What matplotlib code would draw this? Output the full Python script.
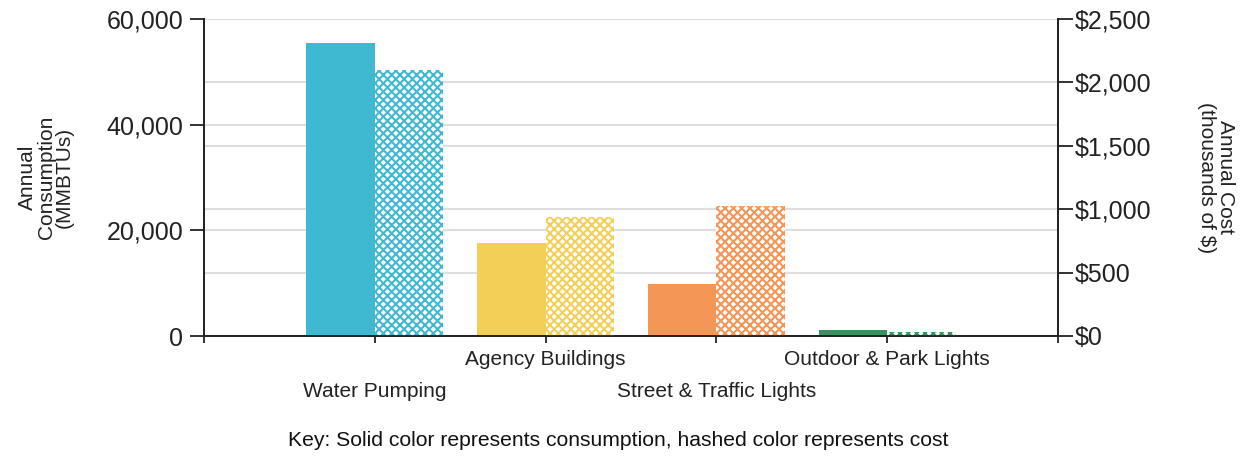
import numpy as np
import matplotlib.pyplot as plt

categories = ["Water Pumping", "Agency Buildings", "Street & Traffic Lights", "Outdoor & Park Lights"]
consumption = [55500, 17600, 9900, 1200]      # MMBTUs
cost = [2100, 940, 1025, 32]                  # thousands of $
colors = ["#3fb9d1", "#f4cf57", "#f39656", "#3d8f5e"]

cons_max = 60000
cost_max = 2500

def main():
    plt.rcParams['font.family'] = ['Liberation Sans', 'DejaVu Sans']
    plt.rcParams['hatch.linewidth'] = 1.5

    fig = plt.figure(figsize=(12.41, 4.59), dpi=100)
    ax = fig.add_axes([204/1241, 1-336/459, (1058-204)/1241, (336-19)/459])
    ax2 = ax.twinx()

    x = np.arange(1, len(categories)+1)
    w = 0.4

    # gridlines for both scales, all kept below the bars
    grid_kw = dict(color="#dedede", lw=1.5, zorder=0)
    for v in np.arange(0, cons_max+1, 20000):
        ax.axhline(v, **grid_kw)
    for v in np.arange(0, cost_max+1, 500):
        ax.axhline(v * cons_max / cost_max, **grid_kw)

    ax.bar(x - w/2, consumption, width=w, color=colors, linewidth=0, zorder=2)
    ax2.bar(x + w/2, cost, width=w, facecolor="white", edgecolor=colors,
            hatch="xxxx", linewidth=0, zorder=2)

    ax.set_xlim(0, 5)
    ax.set_ylim(0, cons_max)
    ax2.set_ylim(0, cost_max)

    ax.set_yticks(np.arange(0, cons_max+1, 20000))
    ax.set_yticklabels([f"{int(v):,}" for v in np.arange(0, cons_max+1, 20000)])
    ax2.set_yticks(np.arange(0, cost_max+1, 500))
    ax2.set_yticklabels([f"${int(v):,}" for v in np.arange(0, cost_max+1, 500)])

    ax.set_xticks(np.arange(0, 6))
    ax.set_xticklabels([""] + categories + [""])

    for a in (ax, ax2):
        a.spines['top'].set_visible(False)
        for s in a.spines.values():
            s.set_linewidth(1.3)
            s.set_color("#222222")

    ax.tick_params(axis='y', direction='out', length=10, width=1.3, pad=5,
                   labelsize=18, colors="#222222")
    ax2.tick_params(axis='y', direction='out', length=11, width=1.3, pad=1,
                    labelsize=18, colors="#222222")
    ax.tick_params(axis='x', direction='out', length=5, width=1.3,
                   labelsize=15, colors="#222222")

    ticks = ax.xaxis.get_major_ticks()
    for i, t in enumerate(ticks):
        if i in (1, 3):
            t.set_pad(28)
        else:
            t.set_pad(5)

    ax.set_ylabel("Annual\nConsumption\n(MMBTUs)", fontsize=15, color="#222222",
                  linespacing=0.95, va="center")
    ax.yaxis.set_label_coords(-0.185, 0.5)
    ax2.set_ylabel("Annual Cost\n(thousands of $)", fontsize=15, color="#222222",
                   rotation=270, linespacing=0.95, va="center")
    ax2.yaxis.set_label_coords(1.185, 0.5)

    fig.text(0.498, 1-441/459,
             "Key: Solid color represents consumption, hashed color represents cost",
             ha="center", va="center", fontsize=15.2, color="#111111")

    fig.savefig("out.png", dpi=100)

if __name__ == '__main__':
    main()
